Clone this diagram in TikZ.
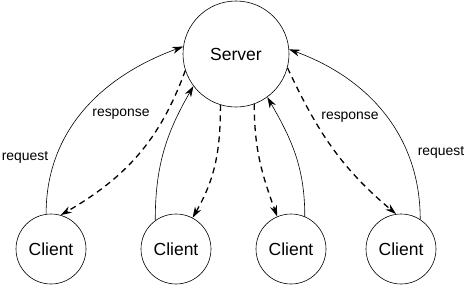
\documentclass[tikz,border=0pt]{standalone}
\usepackage{fontspec}
\setmainfont{Liberation Sans}
\usetikzlibrary{arrows.meta}
\begin{document}
\begin{tikzpicture}[x=1pt,y=1pt,
  circ/.style={draw,circle,line width=0.6pt,inner sep=0pt},
  srv/.style={circ,minimum size=106pt,font=\fontsize{17.5}{20}\selectfont},
  cli/.style={circ,minimum size=70pt,font=\fontsize{17.5}{20}\selectfont},
  req/.style={line width=0.6pt,-{Stealth[length=11pt,width=7pt]}},
  resp/.style={line width=1.3pt,dash pattern=on 6pt off 4.5pt,-{Stealth[length=11pt,width=7pt]}},
  lbl/.style={font=\fontsize{13.9}{16}\selectfont,inner sep=1pt}]
\useasboundingbox (0,0) rectangle (468,285);
\node[srv] (s) at (236,231) {Server};
\node[cli] (c1) at (51,36) {Client};
\node[cli] (c2) at (176,36) {Client};
\node[cli] (c3) at (291,36) {Client};
\node[cli] (c4) at (401,36) {Client};
% requests
\draw[req] (c1.98) to[out=90,in=200] (s.172);
\draw[req] (c2.126) to[out=90,in=240] (s.217);
\draw[req] (c3.67) to[out=90,in=300] (s.306);
\draw[req] (c4.57) to[out=90,in=340] (s.5);
% responses
\draw[resp] (s.198) to[out=250,in=30] (c1.74);
\draw[resp] (s.253) to[out=270,in=60] (c2.62);
\draw[resp] (s.290) to[out=270,in=110] (c3.113);
\draw[resp] (s.345) to[out=295,in=140] (c4.98);
% labels
\node[lbl] (l1) at (121,171) {response};
\node[lbl] (l2) at (25,128) {request};
\node[lbl] (l3) at (350,168) {response};
\node[lbl] (l4) at (441,133) {request};
\end{tikzpicture}
\end{document}
